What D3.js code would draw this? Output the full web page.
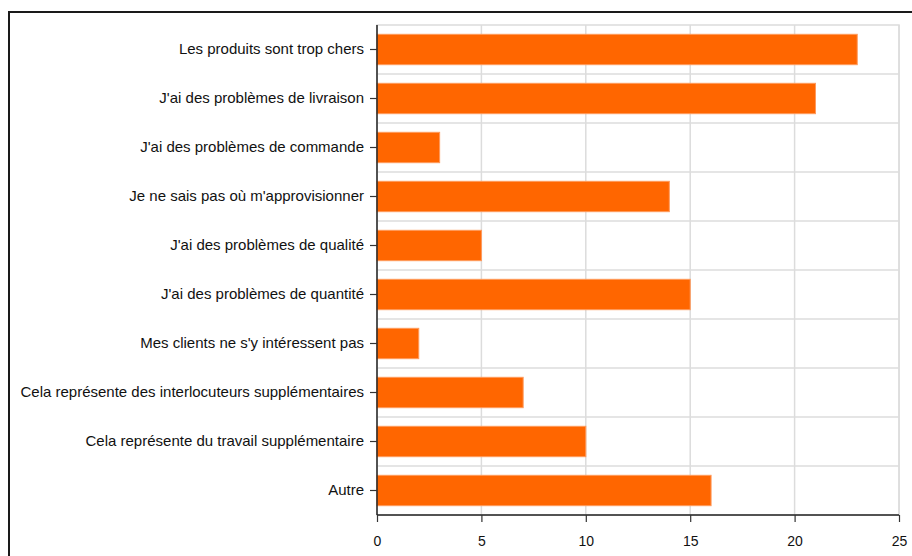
<!DOCTYPE html>
<html>
<head>
  <meta charset="UTF-8">
  <title>Raisons</title>
  <style>
    body { margin: 0; background: #fff; }
    svg { display: block; font-family: "Liberation Sans", Arial, sans-serif; }
  </style>
</head>
<body>
<svg></svg>
<script src="https://d3js.org/d3.v7.min.js"></script>
<script>
    let width = 912, height = 556;

    // data
    var categories = [
        "Les produits sont trop chers",
        "J'ai des problèmes de livraison",
        "J'ai des problèmes de commande",
        "Je ne sais pas où m'approvisionner",
        "J'ai des problèmes de qualité",
        "J'ai des problèmes de quantité",
        "Mes clients ne s'y intéressent pas",
        "Cela représente des interlocuteurs supplémentaires",
        "Cela représente du travail supplémentaire",
        "Autre"
    ];
    var values = [23, 21, 3, 14, 5, 15, 2, 7, 10, 16];
    var xTicks = [0, 5, 10, 15, 20, 25];

    let svg = d3.select("svg")
        .attr("width", width)
        .attr("height", height);

    // outer frame (runs off the right and bottom edge)
    svg.append("path")
        .attr("d", "M9,560 L9,12 L920,12")
        .attr("fill", "none")
        .attr("stroke", "#1a1a1a")
        .attr("stroke-width", 2);

    let plotLeft = 377, plotRight = 899, plotTop = 25, plotBottom = 515;

    var x = d3.scaleLinear().domain([0, 25]).range([plotLeft, plotRight]);
    var y = d3.scaleBand().domain(categories).range([plotTop, plotBottom]).paddingInner(0.38).paddingOuter(0.19);

    // plot area border
    svg.append("rect")
        .attr("x", plotLeft).attr("y", plotTop)
        .attr("width", plotRight - plotLeft).attr("height", plotBottom - plotTop)
        .attr("fill", "none")
        .attr("stroke", "#dcdcdc")
        .attr("stroke-width", 1.5);

    // vertical grid
    svg.append("g")
        .selectAll("line")
        .data(xTicks.slice(1))
        .enter().append("line")
        .attr("x1", d => x(d)).attr("x2", d => x(d))
        .attr("y1", plotTop).attr("y2", plotBottom)
        .attr("stroke", "#dcdcdc")
        .attr("stroke-width", 1.5);

    // horizontal grid between categories
    svg.append("g")
        .selectAll("line")
        .data(categories.slice(1))
        .enter().append("line")
        .attr("x1", plotLeft).attr("x2", plotRight)
        .attr("y1", d => y(d) - y.step() * y.paddingInner() / 2)
        .attr("y2", d => y(d) - y.step() * y.paddingInner() / 2)
        .attr("stroke", "#dcdcdc")
        .attr("stroke-width", 1.5);

    // bars
    svg.append("g")
        .selectAll("rect")
        .data(values)
        .enter().append("rect")
        .attr("x", x(0))
        .attr("y", (d, i) => y(categories[i]))
        .attr("width", d => x(d) - x(0))
        .attr("height", y.bandwidth())
        .attr("fill", "#ff6600")
        .attr("stroke", "#ff9a5c")
        .attr("stroke-width", 1);

    // axes
    var xAxis = svg.append("g")
        .attr("transform", "translate(0," + plotBottom + ")")
        .call(d3.axisBottom(x).tickValues(xTicks).tickSize(7).tickPadding(14));

    var yAxis = svg.append("g")
        .attr("transform", "translate(" + plotLeft + ",0)")
        .call(d3.axisLeft(y).tickSize(7).tickPadding(6));

    [xAxis, yAxis].forEach(g => {
        g.selectAll(".domain").attr("stroke", "#222").attr("stroke-width", 1.5);
        g.selectAll(".tick line").attr("stroke", "#333").attr("stroke-width", 1.2);
        g.selectAll("text")
            .attr("fill", "#111")
            .style("font-family", "'Liberation Sans', Arial, sans-serif");
    });
    xAxis.selectAll("text").style("font-size", "14px");
    yAxis.selectAll("text").style("font-size", "15px");
    xAxis.select(".domain").attr("d", "M" + plotLeft + ",0H" + plotRight);
    yAxis.select(".domain").attr("d", "M0," + plotTop + "V" + plotBottom);
</script>
</body>
</html>
